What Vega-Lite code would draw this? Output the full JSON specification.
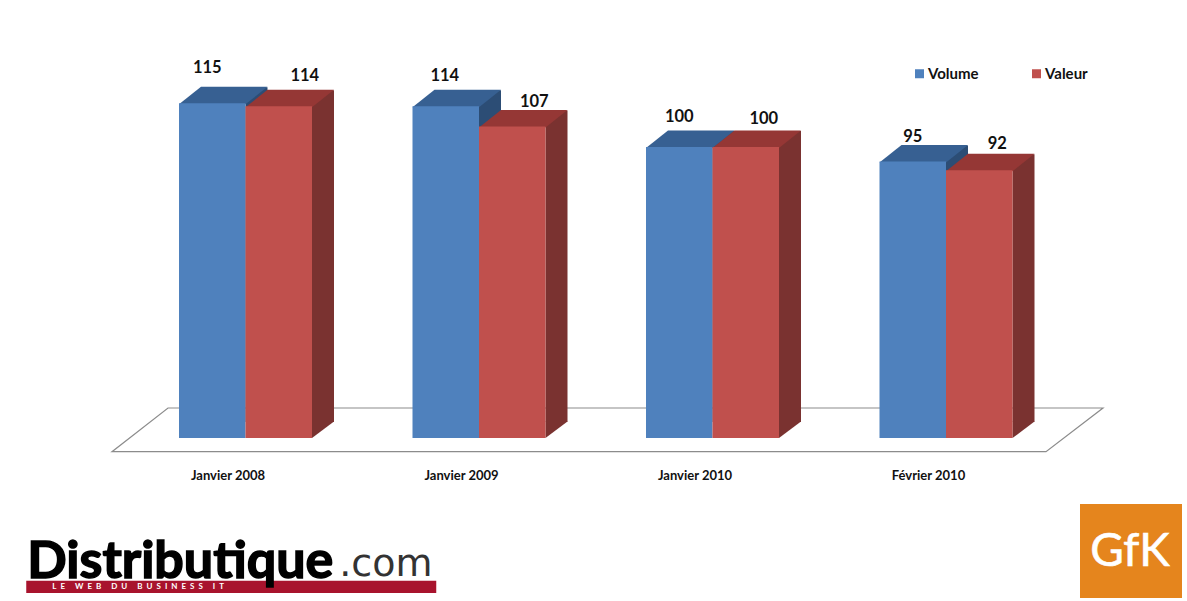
{"$schema":"https://vega.github.io/schema/vega-lite/v6.json","width":1187,"height":601,"autosize":{"type":"none"},"padding":0,"background":"#ffffff","config":{"view":{"stroke":null}},
"data":{"values":[
{"month":"Janvier 2008","series":"Volume","value":115},{"month":"Janvier 2008","series":"Valeur","value":114},
{"month":"Janvier 2009","series":"Volume","value":114},{"month":"Janvier 2009","series":"Valeur","value":107},
{"month":"Janvier 2010","series":"Volume","value":100},{"month":"Janvier 2010","series":"Valeur","value":100},
{"month":"Février 2010","series":"Volume","value":95},{"month":"Février 2010","series":"Valeur","value":92},
{"month":"Janvier 2008","series":"Volume","value":0,"logo":"sol"},{"month":"Janvier 2008","series":"Volume","value":0,"logo":"bandeau"},{"month":"Janvier 2008","series":"Volume","value":0,"logo":"L\u2002E\u2003\u2002W\u2002E\u2002B\u2003\u2002D\u2002U\u2003\u2002B\u2002U\u2002S\u2002I\u2002N\u2002E\u2002S\u2002S\u2003\u2002I\u2002T"},{"month":"Janvier 2008","series":"Volume","value":0,"logo":"Distributique"},{"month":"Janvier 2008","series":"Volume","value":0,"logo":".com"},{"month":"Février 2010","series":"Volume","value":0,"logo":"carre"},{"month":"Février 2010","series":"Volume","value":0,"logo":"GfK"}]},
"encoding":{
"x":{"field":"month","type":"nominal","sort":null,"title":null,"scale":{"domain":["Janvier 2008","Janvier 2009","Janvier 2010","Février 2010"],"range":[128.75,1062.75],"paddingInner":0.4304,"paddingOuter":0.2152},"axis":{"orient":"bottom","offset":-132,"domain":false,"ticks":false,"grid":false,"labelAngle":0,"labelPadding":0,"labelOffset":-17.5,"labelBaseline":"top","labelFont":"Lato","labelFontWeight":"bold","labelFontSize":13,"labelColor":"#111111"}},
"y":{"field":"value","type":"quantitative","title":null,"axis":null,"scale":{"domain":[-56.0,150.5],"nice":false,"zero":false}},
"xOffset":{"field":"series","type":"nominal","sort":null,"scale":{"domain":["Volume","Valeur"]}}
},
"layer":[
{"transform":[{"filter":"datum.logo==='sol'"}],"mark":{"type":"point","shape":"M-100.25,13.7 L833.75,13.7 L890.75,-30 L-44.25,-30 Z","size":4,"filled":false,"stroke":"#8c8c8c","strokeWidth":1.2,"opacity":1},"encoding":{"y":{"datum":0}}},
{"transform":[{"filter":"datum.series==='Volume'&&!datum.logo"}],"mark":{"type":"bar","width":22,"xOffset":11,"yOffset":-16,"y2Offset":-16,"color":"#2C4D75"},"encoding":{"xOffset":null,"y2":{"datum":0}}},
{"transform":[{"filter":"datum.series==='Volume'&&!datum.logo"}],"mark":{"type":"point","shape":"M-33.25,1 L-11.25,-16.5 L55.25,-16.5 L33.25,1 Z","size":4,"filled":true,"opacity":1,"color":"#376092"}},
{"transform":[{"filter":"datum.series==='Valeur'"}],"mark":{"type":"bar","width":22,"xOffset":77.5,"yOffset":-16,"y2Offset":-16,"color":"#7A3230"},"encoding":{"xOffset":null,"y2":{"datum":0}}},
{"transform":[{"filter":"datum.series==='Valeur'"}],"mark":{"type":"point","shape":"M33.25,0 L33.25,-16.5 L55.25,-16.5 Z","size":4,"filled":true,"opacity":1,"color":"#7A3230"},"encoding":{"y":{"datum":0}}},
{"transform":[{"filter":"datum.series==='Valeur'"}],"mark":{"type":"point","shape":"M-33.25,1 L-11.25,-16.5 L55.25,-16.5 L33.25,1 Z","size":4,"filled":true,"opacity":1,"color":"#953735"}},
{"transform":[{"filter":"!datum.logo"}],"mark":{"type":"bar"},"encoding":{"y":{"field":"value","type":"quantitative","stack":null},"y2":{"datum":0},"color":{"field":"series","type":"nominal","sort":null,"scale":{"domain":["Volume","Valeur"],"range":["#4F81BD","#C0504D"]},"legend":{"orient":"none","legendX":912,"legendY":66,"direction":"horizontal","columns":2,"title":null,"symbolType":"square","symbolSize":81,"symbolStrokeWidth":0,"labelFont":"Lato","labelFontWeight":"bold","labelFontSize":15,"labelColor":"#111111","labelOffset":1,"columnPadding":50,"padding":0}}}},
{"transform":[{"filter":"datum.month==='Janvier 2008'&&datum.series==='Volume'&&!datum.logo"}],"mark":{"type":"text","font":"Lato","fontWeight":"bold","fontSize":16.5,"color":"#111111","baseline":"middle","dx":-5,"dy":-35},"encoding":{"text":{"field":"value"}}},
{"transform":[{"filter":"datum.month==='Janvier 2008'&&datum.series==='Valeur'"}],"mark":{"type":"text","font":"Lato","fontWeight":"bold","fontSize":16.5,"color":"#111111","baseline":"middle","dx":26,"dy":-30},"encoding":{"text":{"field":"value"}}},
{"transform":[{"filter":"datum.month==='Janvier 2009'&&datum.series==='Volume'"}],"mark":{"type":"text","font":"Lato","fontWeight":"bold","fontSize":16.5,"color":"#111111","baseline":"middle","dx":-1,"dy":-30},"encoding":{"text":{"field":"value"}}},
{"transform":[{"filter":"datum.month==='Janvier 2009'&&datum.series==='Valeur'"}],"mark":{"type":"text","font":"Lato","fontWeight":"bold","fontSize":16.5,"color":"#111111","baseline":"middle","dx":22,"dy":-25},"encoding":{"text":{"field":"value"}}},
{"transform":[{"filter":"datum.month==='Janvier 2010'&&datum.series==='Volume'"}],"mark":{"type":"text","font":"Lato","fontWeight":"bold","fontSize":16.5,"color":"#111111","baseline":"middle","dx":0,"dy":-30},"encoding":{"text":{"field":"value"}}},
{"transform":[{"filter":"datum.month==='Janvier 2010'&&datum.series==='Valeur'"}],"mark":{"type":"text","font":"Lato","fontWeight":"bold","fontSize":16.5,"color":"#111111","baseline":"middle","dx":18,"dy":-28},"encoding":{"text":{"field":"value"}}},
{"transform":[{"filter":"datum.month==='Février 2010'&&datum.series==='Volume'&&!datum.logo"}],"mark":{"type":"text","font":"Lato","fontWeight":"bold","fontSize":16.5,"color":"#111111","baseline":"middle","dx":0,"dy":-25},"encoding":{"text":{"field":"value"}}},
{"transform":[{"filter":"datum.month==='Février 2010'&&datum.series==='Valeur'"}],"mark":{"type":"text","font":"Lato","fontWeight":"bold","fontSize":16.5,"color":"#111111","baseline":"middle","dx":18,"dy":-26},"encoding":{"text":{"field":"value"}}},
{"transform":[{"filter":"datum.logo==='bandeau'"}],"mark":{"type":"point","shape":"M-186,0 L224,0 L224,12.4 L-186,12.4 Z","size":4,"filled":true,"opacity":1,"color":"#A8132D"},"encoding":{"y":{"datum":-49}}},
{"transform":[{"filter":"datum.logo==='Distributique'"}],"mark":{"type":"text","font":"Lato","fontWeight":"bold","fontSize":52,"color":"#000000","stroke":"#000000","strokeWidth":1.5,"align":"left","baseline":"alphabetic","dx":-185},"encoding":{"y":{"datum":-48.1},"text":{"field":"logo"}}},
{"transform":[{"filter":"datum.logo==='L\u2002E\u2003\u2002W\u2002E\u2002B\u2003\u2002D\u2002U\u2003\u2002B\u2002U\u2002S\u2002I\u2002N\u2002E\u2002S\u2002S\u2003\u2002I\u2002T'"}],"mark":{"type":"text","font":"Lato","fontWeight":"bold","fontSize":8,"color":"#ffffff","align":"left","baseline":"alphabetic","dx":-160},"encoding":{"y":{"datum":-52},"text":{"field":"logo"}}},
{"transform":[{"filter":"datum.logo==='.com'"}],"mark":{"type":"text","font":"DejaVu Sans","fontSize":38,"color":"#333333","align":"left","baseline":"alphabetic","dx":127},"encoding":{"y":{"datum":-47.4},"text":{"field":"logo"}}},
{"transform":[{"filter":"datum.logo==='carre'"}],"mark":{"type":"point","shape":"M167.25,-47 L269.25,-47 L269.25,47 L167.25,47 Z","size":4,"filled":true,"opacity":1,"color":"#E5851D"},"encoding":{"y":{"datum":-38.83}}},
{"transform":[{"filter":"datum.logo==='GfK'"}],"mark":{"type":"text","font":"Lato","fontSize":46,"color":"#ffffff","stroke":"#ffffff","strokeWidth":0.6,"align":"center","baseline":"alphabetic","dx":217.25},"encoding":{"y":{"datum":-43.99},"text":{"field":"logo"}}}
]}
